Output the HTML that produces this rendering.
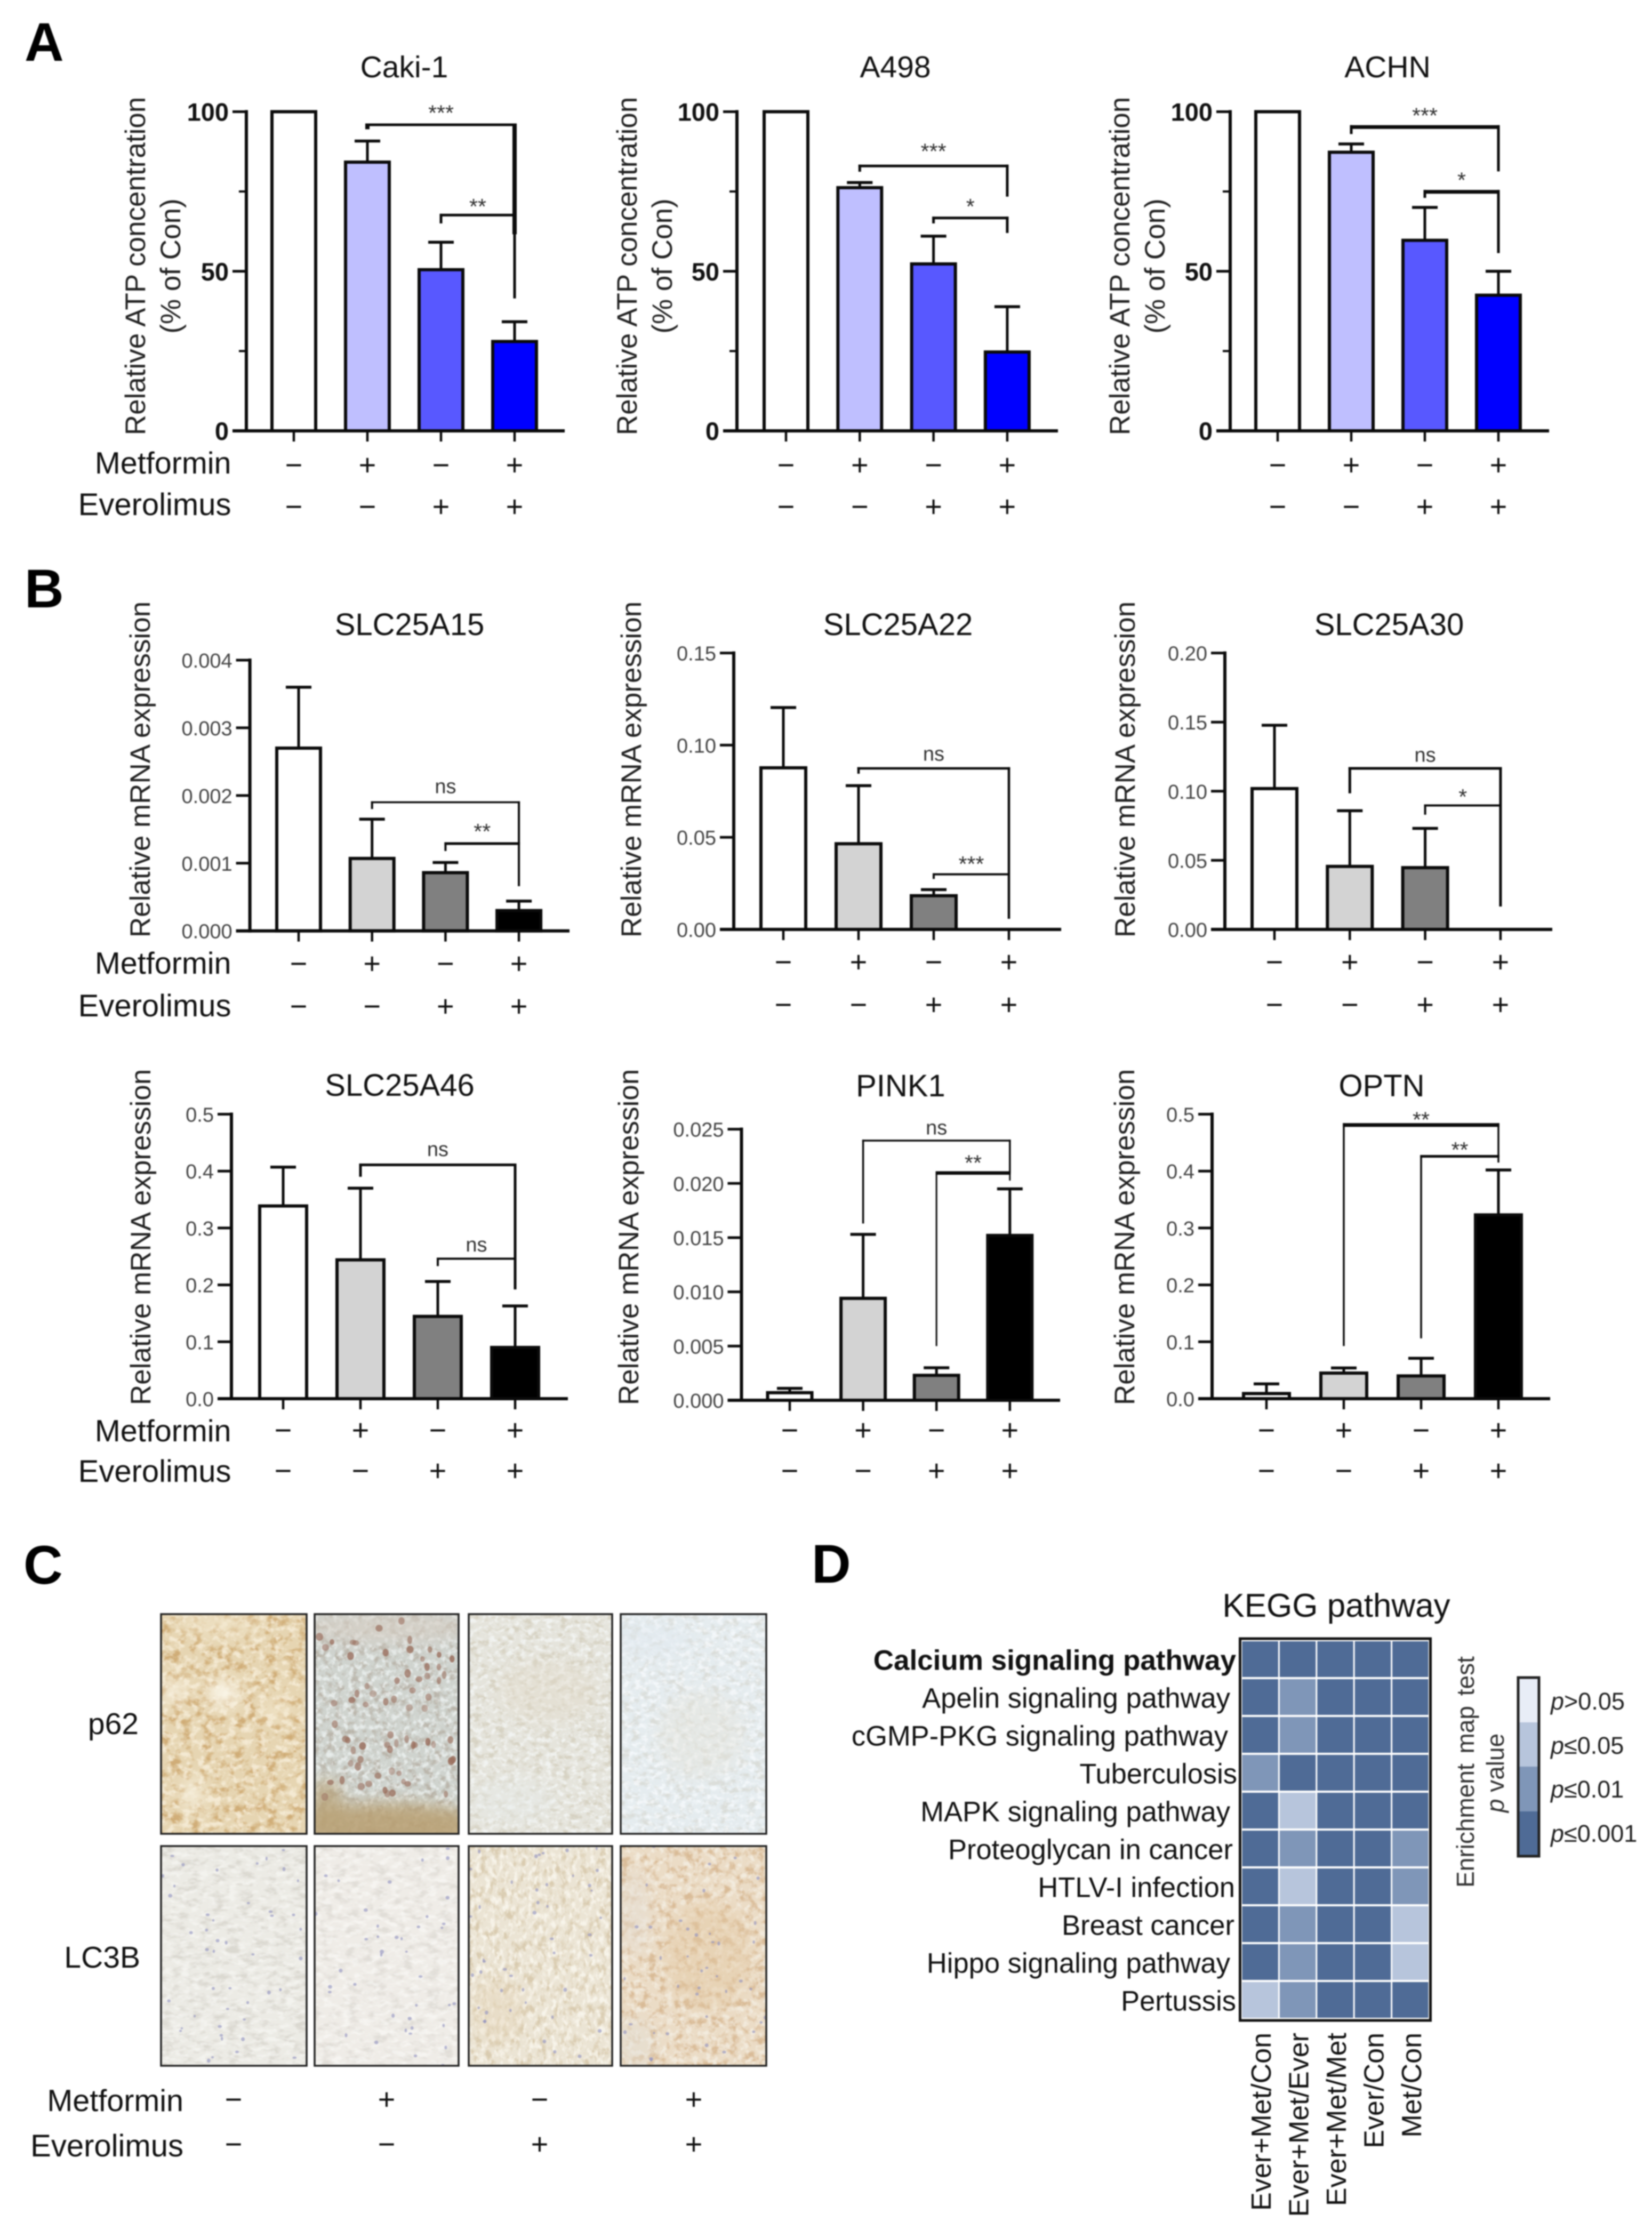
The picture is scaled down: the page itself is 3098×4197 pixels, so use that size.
<!DOCTYPE html>
<html lang="en">
<head>
<meta charset="utf-8">
<title>Metformin and everolimus figure</title>
<style>
html,body{margin:0;padding:0;background:#fff;}
svg{display:block;filter:blur(1px);font-family:"Liberation Sans",Arial,sans-serif;}
</style>
</head>
<body>
<svg id="figure" xmlns="http://www.w3.org/2000/svg" width="3098" height="4197" viewBox="0 0 3098 4197">
<rect x="0" y="0" width="3098" height="4197" fill="#fff"/>
<defs id="defs">
<filter id="soft" x="-30%" y="-30%" width="160%" height="160%"><feGaussianBlur stdDeviation="14"/></filter>
</defs>
<text x="46" y="114" font-size="102" font-weight="700">A</text>
<text x="46" y="1139" font-size="102" font-weight="700">B</text>
<text x="44" y="2970" font-size="102" font-weight="700">C</text>
<text x="1522" y="2968" font-size="102" font-weight="700">D</text>

<g id="charts"></g>
<g id="histology"></g>

<text x="260" y="3252" font-size="57" text-anchor="end" fill="#111">p62</text>
<text x="263" y="3690" font-size="57" text-anchor="end" fill="#111">LC3B</text>
<g id="histology-signs">
<text x="344" y="3959" font-size="57.5" text-anchor="end" fill="#111">Metformin</text>
<text x="344" y="4044" font-size="58" text-anchor="end" fill="#111">Everolimus</text>
</g>

<g id="heatmap">
<text x="2506" y="3032" font-size="62" text-anchor="middle" fill="#111">KEGG pathway</text>
</g>
<g id="legend">
<text transform="translate(2764,3323) rotate(-90)" font-size="46" text-anchor="middle" fill="#333" word-spacing="6">Enrichment map test</text>
<text transform="translate(2820,3325) rotate(-90)" font-size="46" text-anchor="middle" fill="#333"><tspan font-style="italic">p</tspan> value</text>
<rect x="2847" y="3146" width="39" height="84" fill="#e8edf7"/>
<rect x="2847" y="3230" width="39" height="83" fill="#b7c5dc"/>
<rect x="2847" y="3313" width="39" height="84" fill="#7f96b8"/>
<rect x="2847" y="3397" width="39" height="84" fill="#4f6b96"/>
<rect x="2847" y="3146" width="39" height="335" fill="none" stroke="#222" stroke-width="5"/>
<text x="2908" y="3206" font-size="45" fill="#222"><tspan font-style="italic">p</tspan>&gt;0.05</text>
<text x="2908" y="3289" font-size="45" fill="#222"><tspan font-style="italic">p</tspan>≤0.05</text>
<text x="2908" y="3371" font-size="45" fill="#222"><tspan font-style="italic">p</tspan>≤0.01</text>
<text x="2908" y="3454" font-size="45" fill="#222"><tspan font-style="italic">p</tspan>≤0.001</text>
</g>
</svg>

<script>
/* ---------- shared treatment rows ---------- */
const metforminSigns = ['−', '+', '−', '+'];
const everolimusSigns = ['−', '−', '+', '+'];

/* ---------- panel A data ---------- */
const atpTicks = [0, 50, 100];
const atpTickLabels = ['0', '50', '100'];
const atpMinorTicks = [25, 75];

const cakiValues = [100, 84.2, 50.5, 28];
const cakiErrors = [100, 90.8, 59.1, 34.2];
/* bracket: from bar, level, left end, right end, label, label level */
const cakiBrackets = [[1, 95.9, 94.5, 61.6, '***', 101.3], [2, 67.6, 65, 41.5, '**', 72]];

const a498Values = [100, 76.2, 52.3, 24.7];
const a498Errors = [100, 77.8, 61, 38.9];
const a498Brackets = [[1, 83, 81.2, 73.4, '***', 89.3], [2, 66.7, 65, 62, '*', 72]];

const achnValues = [100, 87.3, 59.7, 42.5];
const achnErrors = [100, 89.9, 70, 50];
const achnBrackets = [[1, 95.2, 93, 81.3, '***', 100.5], [2, 74.9, 73, 55.7, '*', 80.3]];

/* ---------- panel B data ---------- */
const a15Ticks = [0, 0.001, 0.002, 0.003, 0.004];
const a15TickLabels = ['0.000', '0.001', '0.002', '0.003', '0.004'];
const a15Values = [0.0027, 0.00107, 0.00086, 0.0003];
const a15Errors = [0.0036, 0.00165, 0.00101, 0.00044];
const a15Brackets = [[1, 0.0019, 0.0018, 0.00066, 'ns', 0.00213], [2, 0.00129, 0.00118, 0.00129, '**', 0.00155]];

const a22Ticks = [0, 0.05, 0.1, 0.15];
const a22TickLabels = ['0.00', '0.05', '0.10', '0.15'];
const a22Values = [0.0877, 0.0465, 0.0183, 0];
const a22Errors = [0.1204, 0.078, 0.0216, 0];
const a22Brackets = [[1, 0.0874, 0.0845, 0.0058, 'ns', 0.095], [2, 0.0299, 0.0274, 0.0299, '***', 0.0385]];

const a30Ticks = [0, 0.05, 0.1, 0.15, 0.2];
const a30TickLabels = ['0.00', '0.05', '0.10', '0.15', '0.20'];
const a30Values = [0.1019, 0.0456, 0.0447, 0];
const a30Errors = [0.1477, 0.0859, 0.0731, 0];
const a30Brackets = [[1, 0.1165, 0.0985, 0.0166, 'ns', 0.126], [2, 0.0897, 0.083, 0.0897, '*', 0.1]];

const a46Ticks = [0, 0.1, 0.2, 0.3, 0.4, 0.5];
const a46TickLabels = ['0.0', '0.1', '0.2', '0.3', '0.4', '0.5'];
const a46Values = [0.3387, 0.244, 0.1446, 0.09];
const a46Errors = [0.407, 0.37, 0.206, 0.163];
const a46Brackets = [[1, 0.411, 0.39, 0.192, 'ns', 0.4376], [2, 0.246, 0.233, 0.246, 'ns', 0.27]];

const pinkTicks = [0, 0.005, 0.01, 0.015, 0.02, 0.025];
const pinkTickLabels = ['0.000', '0.005', '0.010', '0.015', '0.020', '0.025'];
const pinkValues = [0.0007, 0.0094, 0.0023, 0.0152];
const pinkErrors = [0.0011, 0.0153, 0.003, 0.0195];
const pinkBrackets = [[1, 0.02395, 0.0163, 0.02096, 'ns', 0.0251], [2, 0.02096, 0.005, 0.02026, '**', 0.0224]];

const optnTicks = [0, 0.1, 0.2, 0.3, 0.4, 0.5];
const optnTickLabels = ['0.0', '0.1', '0.2', '0.3', '0.4', '0.5'];
const optnValues = [0.009, 0.045, 0.04, 0.323];
const optnErrors = [0.026, 0.054, 0.071, 0.402];
const optnBrackets = [[1, 0.481, 0.0925, 0.426, '**', 0.5], [2, 0.426, 0.106, 0.415, '**', 0.447]];

/* ---------- panel D data ---------- */
const pathways = ['Calcium signaling pathway', 'Apelin signaling pathway', 'cGMP-PKG signaling pathway', 'Tuberculosis', 'MAPK signaling pathway', 'Proteoglycan in cancer', 'HTLV-I infection', 'Breast cancer', 'Hippo signaling pathway', 'Pertussis'];
const comparisons = ['Ever+Met/Con', 'Ever+Met/Ever', 'Ever+Met/Met', 'Ever/Con', 'Met/Con'];
/* 0 p>0.05, 1 p<=0.05, 2 p<=0.01, 3 p<=0.001 */
const enrichmentLevels = [
  [3, 3, 3, 3, 3],
  [3, 2, 3, 3, 3],
  [3, 2, 3, 3, 3],
  [2, 3, 3, 3, 3],
  [3, 1, 3, 3, 3],
  [3, 2, 3, 3, 2],
  [3, 1, 3, 3, 2],
  [3, 2, 3, 3, 1],
  [3, 2, 3, 3, 1],
  [1, 2, 3, 3, 3]
];

/* ---------- helpers ---------- */
const NS = 'http://www.w3.org/2000/svg';
function make(tag, parent, props) {
  const el = document.createElementNS(NS, tag);
  for (const k in props) el.setAttribute(k, props[k]);
  parent.appendChild(el);
  return el;
}
function makeLine(parent, x1, y1, x2, y2, w, name) {
  const l = make('line', parent, {x1: x1, y1: y1, x2: x2, y2: y2, stroke: '#0a0a0a', 'stroke-width': w});
  
  
  return l;
}
function makeText(parent, x, y, size, content, name, extra) {
  const t = make('text', parent, Object.assign({x: x, y: y, 'font-size': size, 'text-anchor': 'middle', fill: '#111'}, extra || {}));
  t.textContent = content;
  
  
  return t;
}

const blueFills = ['#ffffff', '#bfbfff', '#5858ff', '#0000ff'];
const grayFills = ['#ffffff', '#d3d3d3', '#808080', '#000000'];

function drawBarChart(o) {
  const root = document.getElementById('charts');
  const g = make('g', root, {});
  
  
  const xScale = i => o.firstBar + i * o.step;
  const yScale = v => o.yZero - (v / o.yMax) * (o.yZero - o.yTop);

  makeText(g, o.titleX, o.titleY, o.titleSize, o.title, o.id + '-title');

  o.yTitle.forEach((line, i) => {
    const t = make('text', g, {transform: 'translate(' + (o.yTitleX + i * 66) + ',' + o.yTitleC + ') rotate(-90)', 'font-size': 53, 'text-anchor': 'middle', fill: '#222'});
    t.textContent = line;
    
    
  });

  /* bars */
  o.values.forEach((v, i) => {
    if (v <= 0) return;
    const y = yScale(v);
    const bw = o.barWidth - 6;
    const r = make('rect', g, {x: xScale(i) - bw / 2, y: y, width: bw, height: o.yZero - y, fill: o.fills[i], stroke: '#0a0a0a', 'stroke-width': 6});
    
    
  });

  /* error bars */
  o.errors.forEach((e, i) => {
    if (e <= o.values[i]) return;
    makeLine(g, xScale(i), yScale(o.values[i]), xScale(i), yScale(e), 5, o.id + '-error-stem-' + i);
    makeLine(g, xScale(i) - 24, yScale(e), xScale(i) + 24, yScale(e), 5.5, o.id + '-error-cap-' + i);
  });

  /* axes */
  makeLine(g, o.axisX, o.yTop - 3, o.axisX, o.yZero + 3, 6, o.id + '-y-axis');
  makeLine(g, o.axisX - 26, o.yZero, o.xEnd, o.yZero, 6, o.id + '-x-axis');
  o.ticks.forEach((t, i) => {
    const y = yScale(t);
    makeLine(g, o.axisX - 26, y, o.axisX, y, 5, o.id + '-y-tick-' + i);
    const attrs = {'text-anchor': 'end', fill: o.tickBold ? '#111' : '#444'};
    if (o.tickBold) attrs['font-weight'] = '700';
    makeText(g, o.axisX - 33, y + (o.tickBold ? 17 : 14), o.tickBold ? 47 : 38, o.tickLabels[i], o.id + '-y-tick-label-' + i, attrs);
  });
  (o.minorTicks || []).forEach((t, i) => {
    makeLine(g, o.axisX - 14, yScale(t), o.axisX, yScale(t), 4, o.id + '-y-minor-tick-' + i);
  });
  o.values.forEach((v, i) => {
    makeLine(g, xScale(i), o.yZero, xScale(i), o.yZero + 20, 4.5, o.id + '-x-tick-' + i);
  });

  /* significance brackets */
  o.brackets.forEach((b, k) => {
    const right = xScale(3);
    const left = xScale(b[0]);
    const w = o.bracketWidths[k];
    const sw = o.stemWidths ? o.stemWidths[k] : w;
    const by = yScale(b[1]);
    makeLine(g, left, by - w / 2, left, yScale(b[2]), sw, o.id + '-bracket-left-' + k);
    makeLine(g, left - sw / 2, by, right + sw / 2, by, w, o.id + '-bracket-top-' + k);
    makeLine(g, right, by - w / 2, right, yScale(b[3]), sw, o.id + '-bracket-right-' + k);
    const isNs = b[4] === 'ns';
    const cy = yScale(b[5]);
    makeText(g, (left + right) / 2, isNs ? cy + 12 : cy + 24, isNs ? 38 : 41, b[4], o.id + '-significance-' + k, {fill: '#333'});
  });

  /* treatment rows */
  metforminSigns.forEach((s, i) => {
    makeText(g, xScale(i), o.signY[0] + 18, 56, s, o.id + '-metformin-sign-' + i);
  });
  everolimusSigns.forEach((s, i) => {
    makeText(g, xScale(i), o.signY[1] + 18, 56, s, o.id + '-everolimus-sign-' + i);
  });
  if (o.rowLabels) {
    makeText(g, 433.5, o.rowLabels[0], 57.5, 'Metformin', o.id + '-metformin-label', {'text-anchor': 'end'});
    makeText(g, 433.5, o.rowLabels[1], 58, 'Everolimus', o.id + '-everolimus-label', {'text-anchor': 'end'});
  }
}

const atpTitle = ['Relative ATP concentration', '(% of Con)'];
const mrnaTitle = ['Relative mRNA expression'];

drawBarChart({id: 'caki-1', title: 'Caki-1', titleX: 758, titleY: 145, titleSize: 57, yTitle: atpTitle, yTitleX: 272, yTitleC: 499,
  axisX: 462, xEnd: 1059, yZero: 808, yTop: 209.5, yMax: 100, firstBar: 551, step: 138, barWidth: 88, fills: blueFills,
  values: cakiValues, errors: cakiErrors, ticks: atpTicks, tickLabels: atpTickLabels, minorTicks: atpMinorTicks, tickBold: true,
  brackets: cakiBrackets, bracketWidths: [5, 5], stemWidths: [8, 5], signY: [873, 951], rowLabels: [888, 966]});
drawBarChart({id: 'a498', title: 'A498', titleX: 1679, titleY: 145, titleSize: 57, yTitle: atpTitle, yTitleX: 1194, yTitleC: 499,
  axisX: 1382, xEnd: 1984, yZero: 808, yTop: 209.5, yMax: 100, firstBar: 1474, step: 138.3, barWidth: 88, fills: blueFills,
  values: a498Values, errors: a498Errors, ticks: atpTicks, tickLabels: atpTickLabels, minorTicks: atpMinorTicks, tickBold: true,
  brackets: a498Brackets, bracketWidths: [5, 5], signY: [873, 951]});
drawBarChart({id: 'achn', title: 'ACHN', titleX: 2602, titleY: 145, titleSize: 57, yTitle: atpTitle, yTitleX: 2118, yTitleC: 499,
  axisX: 2307, xEnd: 2905, yZero: 808, yTop: 209.5, yMax: 100, firstBar: 2396, step: 138, barWidth: 88, fills: blueFills,
  values: achnValues, errors: achnErrors, ticks: atpTicks, tickLabels: atpTickLabels, minorTicks: atpMinorTicks, tickBold: true,
  brackets: achnBrackets, bracketWidths: [7, 7], stemWidths: [5, 5], signY: [873, 951]});

drawBarChart({id: 'slc25a15', title: 'SLC25A15', titleX: 768, titleY: 1191, titleSize: 58, yTitle: mrnaTitle, yTitleX: 281, yTitleC: 1443,
  axisX: 468.6, xEnd: 1068, yZero: 1745.7, yTop: 1238, yMax: 0.004, firstBar: 560, step: 137.7, barWidth: 88, fills: grayFills,
  values: a15Values, errors: a15Errors, ticks: a15Ticks, tickLabels: a15TickLabels,
  brackets: a15Brackets, bracketWidths: [3.5, 5], stemWidths: [4, 4], signY: [1808, 1888], rowLabels: [1826, 1906]});
drawBarChart({id: 'slc25a22', title: 'SLC25A22', titleX: 1684, titleY: 1191, titleSize: 58, yTitle: mrnaTitle, yTitleX: 1202, yTitleC: 1443,
  axisX: 1376, xEnd: 1990, yZero: 1743, yTop: 1224.6, yMax: 0.15, firstBar: 1469, step: 141, barWidth: 90, fills: grayFills,
  values: a22Values, errors: a22Errors, ticks: a22Ticks, tickLabels: a22TickLabels,
  brackets: a22Brackets, bracketWidths: [4.5, 4], signY: [1805, 1885]});
drawBarChart({id: 'slc25a30', title: 'SLC25A30', titleX: 2605, titleY: 1191, titleSize: 58, yTitle: mrnaTitle, yTitleX: 2128, yTitleC: 1443,
  axisX: 2297, xEnd: 2911, yZero: 1743, yTop: 1224.6, yMax: 0.2, firstBar: 2390, step: 141.3, barWidth: 90, fills: grayFills,
  values: a30Values, errors: a30Errors, ticks: a30Ticks, tickLabels: a30TickLabels,
  brackets: a30Brackets, bracketWidths: [5, 4], signY: [1805, 1885]});

drawBarChart({id: 'slc25a46', title: 'SLC25A46', titleX: 749.5, titleY: 2055, titleSize: 58, yTitle: mrnaTitle, yTitleX: 282, yTitleC: 2320,
  axisX: 434, xEnd: 1065, yZero: 2623, yTop: 2089.5, yMax: 0.5, firstBar: 531, step: 145, barWidth: 94, fills: grayFills,
  values: a46Values, errors: a46Errors, ticks: a46Ticks, tickLabels: a46TickLabels,
  brackets: a46Brackets, bracketWidths: [5, 4], signY: [2683, 2759], rowLabels: [2703, 2779]});
drawBarChart({id: 'pink1', title: 'PINK1', titleX: 1689, titleY: 2056, titleSize: 58, yTitle: mrnaTitle, yTitleX: 1197, yTitleC: 2320,
  axisX: 1390.5, xEnd: 1988, yZero: 2626, yTop: 2117.6, yMax: 0.025, firstBar: 1481, step: 137.6, barWidth: 89, fills: grayFills,
  values: pinkValues, errors: pinkErrors, ticks: pinkTicks, tickLabels: pinkTickLabels,
  brackets: pinkBrackets, bracketWidths: [3.5, 6.5], stemWidths: [3.5, 3], signY: [2683, 2759]});
drawBarChart({id: 'optn', title: 'OPTN', titleX: 2591, titleY: 2056, titleSize: 58, yTitle: mrnaTitle, yTitleX: 2127, yTitleC: 2320,
  axisX: 2273, xEnd: 2907, yZero: 2623, yTop: 2089.5, yMax: 0.5, firstBar: 2375, step: 145, barWidth: 92, fills: grayFills,
  values: optnValues, errors: optnErrors, ticks: optnTicks, tickLabels: optnTickLabels,
  brackets: optnBrackets, bracketWidths: [7, 5], stemWidths: [3.5, 3.5], signY: [2683, 2759]});

/* ---------- panel C: simulated tissue textures ---------- */
(function () {
  const defs = document.getElementById('defs');
  const root = document.getElementById('histology');
  const colX = [[302, 575], [590, 860], [879, 1148], [1164, 1437]];
  const rowY = [[3027, 3439], [3462, 3874]];
  const looks = [
    {name: 'p62-control', base: '#e6d5b2', dark: '0.76 0.58 0.32', light: '0.98 0.95 0.88', da: 0.6, la: 0.7, fx: 0.05, fy: 0.06,
      blobs: [[.43,.36,.11,.06,'#fbf7ea',.95],[.09,.35,.07,.06,'#f8f2e2',.9],[.22,.82,.07,.08,'#f7f0de',.85],[.8,.44,.09,.05,'#f3e8cf',.7],[.4,.05,.3,.05,'#f2e6cb',.6]]},
    {name: 'p62-metformin', base: '#cfd3ce', dark: '0.58 0.50 0.42', light: '0.95 0.97 0.97', da: 0.35, la: 0.7, fx: 0.07, fy: 0.07,
      blobs: [[.5,.97,.7,.11,'#b79e70',.85],[.08,.85,.12,.1,'#b9a377',.7],[.5,.06,.6,.07,'#d6cfc4',.7]], nuclei: 70, nucleusColor: '#9a6f5e'},
    {name: 'p62-everolimus', base: '#e5e4dc', dark: '0.76 0.72 0.62', light: '0.97 0.98 0.98', da: 0.4, la: 0.7, fx: 0.06, fy: 0.08,
      blobs: [[.55,.35,.35,.15,'#e2dac7',.4],[.3,.85,.3,.1,'#e8ebe9',.5]]},
    {name: 'p62-combination', base: '#e5ecef', dark: '0.78 0.76 0.70', light: '0.98 0.99 1', da: 0.35, la: 0.7, fx: 0.06, fy: 0.08,
      blobs: [[.55,.55,.3,.2,'#e3e0d6',.4],[.2,.12,.3,.08,'#e2eaef',.5]]},
    {name: 'lc3b-control', base: '#ecebe5', dark: '0.74 0.72 0.68', light: '0.98 0.98 0.97', da: 0.35, la: 0.55, fx: 0.04, fy: 0.08,
      blobs: [], specks: 45},
    {name: 'lc3b-metformin', base: '#efece7', dark: '0.77 0.75 0.72', light: '0.99 0.99 0.98', da: 0.3, la: 0.55, fx: 0.04, fy: 0.07,
      blobs: [], specks: 40},
    {name: 'lc3b-everolimus', base: '#ebe4d4', dark: '0.76 0.67 0.50', light: '0.99 0.98 0.95', da: 0.42, la: 0.75, fx: 0.08, fy: 0.05,
      blobs: [[.2,.75,.18,.15,'#e3d3b4',.4]], specks: 45},
    {name: 'lc3b-combination', base: '#ebdcc6', dark: '0.78 0.60 0.40', light: '0.97 0.96 0.93', da: 0.48, la: 0.6, fx: 0.06, fy: 0.06,
      blobs: [[.6,.5,.3,.25,'#e2c7a2',.45],[.1,.3,.1,.2,'#e6e0d6',.6],[.1,.9,.13,.12,'#e4e0d8',.5]], specks: 40}
  ];
  let seed = 12345;
  function rnd() { seed = (seed * 1103515245 + 12345) & 0x7fffffff; return seed / 0x7fffffff; }

  function addNoise(id, fx, fy, sd, rgb, channelRow, k, b) {
    const f = make('filter', defs, {id: id, x: '0', y: '0', width: '100%', height: '100%', 'color-interpolation-filters': 'sRGB'});
    make('feTurbulence', f, {type: 'fractalNoise', baseFrequency: fx + ' ' + fy, numOctaves: 3, seed: sd});
    const c = rgb.split(' ');
    const aRow = channelRow === 0 ? (k + ' 0 0 0 ' + b) : ('0 ' + k + ' 0 0 ' + b);
    make('feColorMatrix', f, {type: 'matrix', values: '0 0 0 0 ' + c[0] + ' 0 0 0 0 ' + c[1] + ' 0 0 0 0 ' + c[2] + ' ' + aRow});
  }

  looks.forEach((look, idx) => {
    const col = colX[idx % 4], row = rowY[idx < 4 ? 0 : 1];
    const x = col[0], y = row[0], w = col[1] - col[0], h = row[1] - row[0];
    const clip = make('clipPath', defs, {id: 'clip' + idx});
    make('rect', clip, {x: x, y: y, width: w, height: h});
    addNoise('dark' + idx, look.fx, look.fy, idx * 3 + 2, look.dark, 0, 4, -1.9);
    addNoise('light' + idx, look.fx * 1.4, look.fy * 1.4, idx * 3 + 7, look.light, 1, 4, -1.9);

    const g = make('g', root, {'clip-path': 'url(#clip' + idx + ')'});
    
    
    make('rect', g, {x: x, y: y, width: w, height: h, fill: look.base});
    make('rect', g, {x: x, y: y, width: w, height: h, filter: 'url(#dark' + idx + ')', opacity: look.da});
    make('rect', g, {x: x, y: y, width: w, height: h, filter: 'url(#light' + idx + ')', opacity: look.la});
    const soft = make('g', g, {filter: 'url(#soft)'});
    look.blobs.forEach(b => {
      make('ellipse', soft, {cx: x + b[0] * w, cy: y + b[1] * h, rx: b[2] * w, ry: b[3] * h, fill: b[4], opacity: b[5]});
    });
    for (let n = 0; n < (look.nuclei || 0); n++) {
      make('ellipse', g, {cx: x + 8 + rnd() * (w - 16), cy: y + 8 + rnd() * (h * 0.82), rx: 4 + rnd() * 3, ry: 5 + rnd() * 3, fill: look.nucleusColor, opacity: 0.45 + rnd() * 0.4});
    }
    for (let n = 0; n < (look.specks || 0); n++) {
      make('ellipse', g, {cx: x + rnd() * w, cy: y + rnd() * h, rx: 2 + rnd() * 2, ry: 2 + rnd() * 2, fill: '#8d8fc0', opacity: 0.6});
    }
    const frame = make('rect', root, {x: x, y: y, width: w, height: h, fill: 'none', stroke: '#222', 'stroke-width': 3.5});
    
    
  });

  const signRoot = document.getElementById('histology-signs');
  const signCols = [438, 725, 1012, 1301];
  metforminSigns.forEach((s, i) => {
    makeText(signRoot, signCols[i], 3956, 56, s, 'histology-metformin-sign-' + i);
  });
  everolimusSigns.forEach((s, i) => {
    makeText(signRoot, signCols[i], 4040, 56, s, 'histology-everolimus-sign-' + i);
  });
})();

/* ---------- panel D: heatmap ---------- */
(function () {
  const root = document.getElementById('heatmap');
  const levelColors = ['#e8edf7', '#b7c5dc', '#7f96b8', '#4f6b96'];
  const labelNudge = [0, -11, -15, 2, -11, -6, -2, -3, -11, 0];
  const left = 2328, top = 3076, cellW = 70.4, cellH = 71;
  const xCell = c => left + c * cellW;
  const yCell = r => top + r * cellH;

  make('rect', root, {x: left - 3, y: top - 3, width: cellW * 5 + 6, height: cellH * 10 + 6, fill: '#fff'});
  enrichmentLevels.forEach((row, r) => {
    row.forEach((lvl, c) => {
      const cell = make('rect', root, {x: xCell(c) + 1.5, y: yCell(r) + 2, width: cellW - 3, height: cellH - 4, fill: levelColors[lvl]});
      
      
    });
  });
  const frame = make('rect', root, {x: left - 2.5, y: top - 3, width: cellW * 5 + 5, height: cellH * 10 + 6, fill: 'none', stroke: '#111', 'stroke-width': 5});
  
  

  pathways.forEach((p, r) => {
    const attrs = {'text-anchor': 'end'};
    if (r === 0) attrs['font-weight'] = '700';
    makeText(root, 2318 + labelNudge[r], yCell(r) + cellH / 2 + 20, r === 0 ? 53 : 52.5, p, 'pathway-label-' + r, attrs);
  });
  comparisons.forEach((c, i) => {
    const t = make('text', root, {transform: 'translate(' + (xCell(i) + cellW / 2 + 20) + ',3812) rotate(-90)', 'font-size': 52, 'text-anchor': 'end', fill: '#111'});
    t.textContent = c;
    
    
  });
})();
</script>
</body>
</html>
